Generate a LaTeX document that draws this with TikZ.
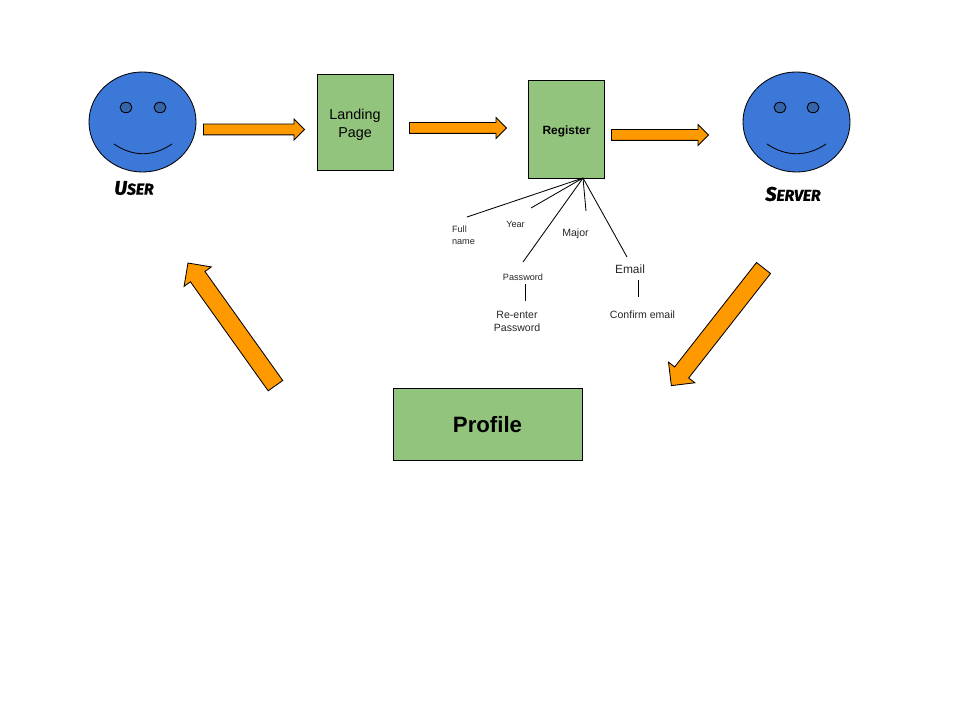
\documentclass[tikz,border=0pt]{standalone}
\usepackage{fontspec}
\usepackage{xcolor}
\usetikzlibrary{positioning, shapes.geometric, shapes.arrows, calc}
\setmainfont{Liberation Sans}
\newfontfamily\markerfont[UprightFont=*-Bold Italic, FakeBold=1.2]{Fira Sans}
\definecolor{face_blue}{HTML}{3C78D8}
\definecolor{eye_blue}{HTML}{3465A8}
\definecolor{box_green}{HTML}{93C47D}
\definecolor{arrow_orange}{HTML}{FF9900}
\newcommand{\fsz}[2]{\fontsize{#1}{#2}\selectfont}
\newcommand{\marker}[2]{{\markerfont\fsz{14}{15}#1\fsz{11.2}{15}#2}}

\begin{document}
\begin{tikzpicture}[
    x=0.025cm, y=-0.025cm,
    face_node/.style={ellipse, draw=black, semithick, fill=face_blue, inner sep=0pt, minimum width=2.675cm, minimum height=2.5cm},
    eye_node/.style={ellipse, draw=black, semithick, fill=eye_blue, inner sep=0pt, minimum width=0.3cm, minimum height=0.26cm},
    box_node/.style={rectangle, draw=black, semithick, fill=box_green, align=center, inner sep=0pt},
    box_text/.style={align=center, inner sep=0pt, text=black},
    flow_arrow/.style={single arrow, draw=black, semithick, fill=arrow_orange, anchor=tail, inner sep=0.125cm, single arrow head extend=0.125cm, minimum width=0.5cm, minimum height=2.5cm},
    big_arrow/.style={flow_arrow, inner sep=0.2125cm, single arrow head extend=0.195cm, minimum width=0.815cm, minimum height=3.75cm},
    fan_line/.style={draw=black, semithick},
    label_text/.style={align=left, inner sep=0pt, text=black!85}
]
\useasboundingbox (0,0) rectangle (960,720);

% Faces
\node[face_node] (user) at (142.5,122) {};
\node[eye_node] (user_eye_l) at (126,107.5) {};
\node[eye_node] (user_eye_r) at (160,107.5) {};
\node[face_node] (server) at (796.5,122) {};
\node[eye_node] (server_eye_l) at (780,107.5) {};
\node[eye_node] (server_eye_r) at (813,107.5) {};
\node[inner sep=0pt] (user_label) at (134,188) {\marker{U}{SER}};
\node[inner sep=0pt] (server_label) at (793,194) {\marker{S}{ERVER}};

% Mouths
\coordinate (user_m_l) at (114,144);
\coordinate (user_m_r) at (172,144);
\coordinate (server_m_l) at (767,144);
\coordinate (server_m_r) at (826,144);
\draw[fan_line] (user_m_l) .. controls (133,157) and (153,157) .. (user_m_r);
\draw[fan_line] (server_m_l) .. controls (786,157) and (807,157) .. (server_m_r);

% Boxes
\node[box_node, minimum width=1.9cm, minimum height=2.4cm, label={[box_text, yshift=-2pt, font=\fsz{10.2}{12.8}]center:Landing\\Page}] (landing) at (355,122) {};
\node[box_node, minimum width=1.9cm, minimum height=2.45cm, label={[box_text, yshift=-1.7pt, font=\fsz{8.5}{10}\bfseries]center:Register}] (register) at (566.5,129) {};
\node[box_node, minimum width=4.725cm, minimum height=1.8cm, label={[box_text, yshift=-0.4pt, font=\fsz{15.8}{18}\bfseries]center:Profile}] (profile) at (487.5,424) {};

% Arrows
\node[flow_arrow, minimum height=2.525cm] (arrow_a) at (203,129.5) {};
\node[flow_arrow, minimum height=2.425cm] (arrow_b) at (409,128) {};
\node[flow_arrow, minimum height=2.425cm] (arrow_c) at (611,135) {};
\node[big_arrow, rotate=-128.1, minimum height=3.735cm] (arrow_d) at (763.8,267.7) {};
\node[big_arrow, rotate=125.5, minimum height=3.765cm] (arrow_e) at (275.7,386) {};

% Register fields
\coordinate (hub) at (583,178);
\coordinate (full_end) at (467,217);
\coordinate (year_end) at (531,208);
\coordinate (major_end) at (586,211);
\coordinate (pass_end) at (523,262);
\coordinate (email_end) at (627,257);
\draw[fan_line] (hub) -- (full_end);
\draw[fan_line] (hub) -- (year_end);
\draw[fan_line] (hub) -- (major_end);
\draw[fan_line] (hub) -- (pass_end);
\draw[fan_line] (hub) -- (email_end);

\node[label_text, font=\fsz{6.5}{8.6}] (full_name) at (463.5,235.5) {Full\\name};
\node[label_text, font=\fsz{6.5}{8}] (year) at (515.5,224.5) {Year};
\node[label_text, font=\fsz{7.5}{9}] (major) at (575.5,233.5) {Major};
\node[label_text, font=\fsz{6.5}{8}] (password) at (523,277) {Password};
\node[label_text, font=\fsz{8.5}{10}] (email) at (630,269.5) {Email};
\node[label_text, align=center, font=\fsz{7.5}{9.2}] (reenter) at (517,321.5) {Re-enter\\Password};
\node[label_text, font=\fsz{7.5}{9}] (confirm) at (642.5,315) {Confirm email};

\coordinate (pass_a) at (525,284);
\coordinate (pass_b) at (525,301);
\coordinate (email_a) at (638.5,280);
\coordinate (email_b) at (638.5,297);
\draw[fan_line] (pass_a) -- (pass_b);
\draw[fan_line] (email_a) -- (email_b);

\end{tikzpicture}
\end{document}
